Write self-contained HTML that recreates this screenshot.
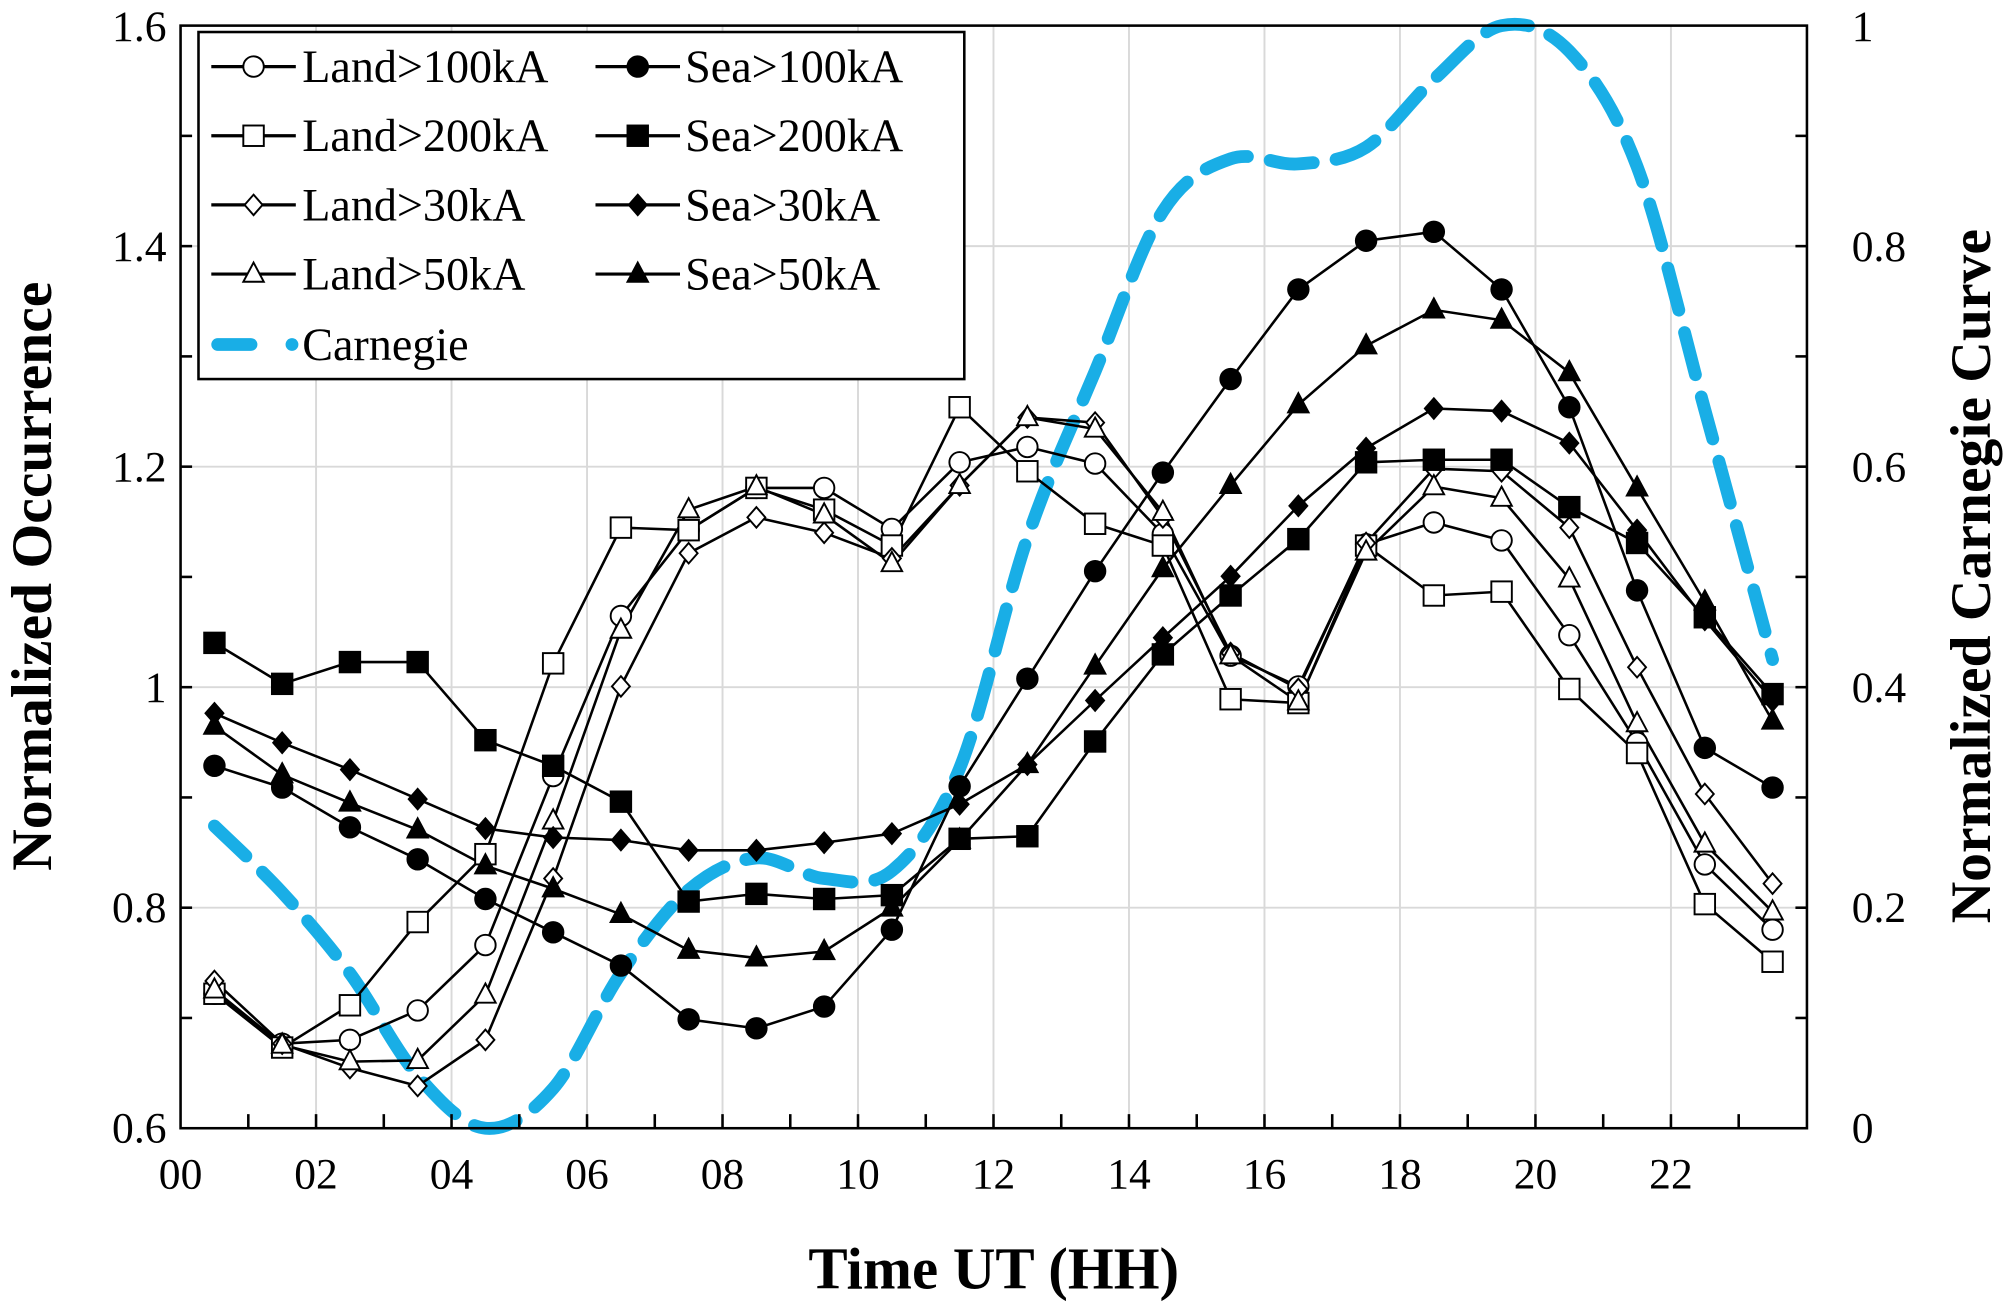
<!DOCTYPE html>
<html><head><meta charset="utf-8"><style>
html,body{margin:0;padding:0;background:#fff;}
svg{display:block;}
svg text{font-family:"Liberation Serif","Times New Roman","DejaVu Serif",serif;}
</style></head><body>
<svg id="s" width="2008" height="1307" viewBox="0 0 1568 1020.6" xmlns="http://www.w3.org/2000/svg">
<g id="grid" stroke="#d9d9d9" stroke-width="1.5"></g>
<g id="car"></g>
<g id="ser"></g>
<rect x="141" y="20" width="1270" height="861" fill="none" stroke="#000" stroke-width="2"/>
<g id="ticks" stroke="#000" stroke-width="2"></g>
<g font-size="34" text-anchor="end">
<text x="130" y="892">0.6</text><text x="130" y="720">0.8</text><text x="130" y="548">1</text>
<text x="130" y="376">1.2</text><text x="130" y="204">1.4</text><text x="130" y="32">1.6</text>
</g>
<g font-size="34" text-anchor="start">
<text x="1446" y="892">0</text><text x="1446" y="720">0.2</text><text x="1446" y="548">0.4</text>
<text x="1446" y="376">0.6</text><text x="1446" y="204">0.8</text><text x="1446" y="32">1</text>
</g>
<g font-size="34" text-anchor="middle">
<text x="141" y="928">00</text><text x="246.8" y="928">02</text><text x="352.6" y="928">04</text>
<text x="458.4" y="928">06</text><text x="564.2" y="928">08</text><text x="670" y="928">10</text>
<text x="775.8" y="928">12</text><text x="881.6" y="928">14</text><text x="987.4" y="928">16</text>
<text x="1093.2" y="928">18</text><text x="1199" y="928">20</text><text x="1304.8" y="928">22</text>
</g>
<text x="776" y="1006" font-size="46" font-weight="bold" text-anchor="middle">Time UT (HH)</text>
<text transform="translate(40,450) rotate(-90)" font-size="45" font-weight="bold" text-anchor="middle">Normalized Occurrence</text>
<text transform="translate(1554,450) rotate(-90)" font-size="45" font-weight="bold" text-anchor="middle">Normalized Carnegie Curve</text>
<rect x="155" y="25" width="598" height="271" fill="#fff" stroke="#000" stroke-width="2"/>
<g id="leg"></g>
<g font-size="36">
<text x="236" y="64">Land&gt;100kA</text><text x="535" y="64">Sea&gt;100kA</text>
<text x="236" y="118">Land&gt;200kA</text><text x="535" y="118">Sea&gt;200kA</text>
<text x="236" y="172">Land&gt;30kA</text><text x="535" y="172">Sea&gt;30kA</text>
<text x="236" y="226">Land&gt;50kA</text><text x="535" y="226">Sea&gt;50kA</text>
<text x="236" y="281">Carnegie</text>
</g>
</svg>
<script>
var NS="http://www.w3.org/2000/svg";
function el(p,t,a){var e=document.createElementNS(NS,t);for(var k in a)e.setAttribute(k,a[k]);document.getElementById(p).appendChild(e);return e;}
var X0=141,DX=52.9;
for(var h=2;h<24;h+=2)el("grid","line",{x1:X0+h*DX,x2:X0+h*DX,y1:20,y2:881});
for(var v=1;v<5;v++)el("grid","line",{x1:141,x2:1411,y1:881-v*172.2,y2:881-v*172.2});
for(var h=1;h<24;h++)el("ticks","line",{x1:X0+h*DX,x2:X0+h*DX,y1:881,y2:870});
for(var i=1;i<10;i++){var y=881-i*86.1;el("ticks","line",{x1:141,x2:150,y1:y,y2:y});el("ticks","line",{x1:1402,x2:1411,y1:y,y2:y});}
var xs=[];for(var i=0;i<24;i++)xs.push(X0+(i+0.5)*DX);
var car=[645,697,760,840,881,850,760,695,670,686,680,600,420,290,165,124,128,115,62,20,40,130,320,515];
var d="M"+xs[0]+","+car[0];
for(var i=0;i<23;i++){var p0=i>0?i-1:i,p3=i<22?i+2:i+1;
var c1x=xs[i]+(xs[i+1]-xs[p0])/6,c1y=car[i]+(car[i+1]-car[p0])/6,c2x=xs[i+1]-(xs[p3]-xs[i])/6,c2y=car[i+1]-(car[p3]-car[i])/6;
d+=" C"+c1x+","+c1y+" "+c2x+","+c2y+" "+xs[i+1]+","+car[i+1];}
el("car","path",{d:d,fill:"none",stroke:"#19aee6","stroke-width":10,"stroke-dasharray":"34 18","stroke-linecap":"round"});
var S=[
["c",0,[776,815,812,789,738,606,481,414,381,381,413,361,349,362,417,512,536,425,408,422,496,580,675,726]],
["s",0,[776,818,785,720,667,518,412,414,381,398,426,318,368,409,426,546,549,426,465,462,538,588,706,751]],
["d",0,[766,815,834,848,812,686,536,432,404,416,436,379,326,330,404,510,538,424,366,368,412,521,620,690]],
["t",0,[773,816,829,828,777,641,492,398,380,402,440,379,326,335,400,512,548,431,380,389,452,565,659,712]],
["c",1,[598,615,646,671,702,728,754,796,803,786,726,614,530,446,369,296,226,188,181,226,318,461,584,615]],
["s",1,[502,534,517,517,578,598,626,704,698,702,699,655,653,579,511,465,421,361,359,359,396,424,482,542]],
["d",1,[557,580,601,624,647,654,656,664,664,658,651,628,597,547,498,450,395,350,319,321,346,414,484,547]],
["t",1,[567,605,627,648,676,694,714,742,748,743,709,656,597,520,444,379,316,270,242,250,291,381,470,563]]];
function mk(g,t,f,x,y){var a={fill:f?"#000":"#fff",stroke:"#000","stroke-width":1.5};
if(t=="c"){a.cx=x;a.cy=y;a.r=8;el(g,"circle",a);}
else if(t=="s"){a.x=x-8;a.y=y-8;a.width=16;a.height=16;el(g,"rect",a);}
else if(t=="d"){a.points=x+","+(y-8)+" "+(x+7)+","+y+" "+x+","+(y+8)+" "+(x-7)+","+y;el(g,"polygon",a);}
else{a.points=x+","+(y-9)+" "+(x+8)+","+(y+6)+" "+(x-8)+","+(y+6);el(g,"polygon",a);}}
S.forEach(function(s){var p=xs.map(function(x,i){return x+","+s[2][i];}).join(" ");
el("ser","polyline",{points:p,fill:"none",stroke:"#000","stroke-width":2});});
S.forEach(function(s){xs.forEach(function(x,i){mk("ser",s[0],s[1],x,s[2][i]);});});
var ly=[52,106,160,214];
S.forEach(function(s,i){var r=i%4,bx=s[1]?465:165,y=ly[r];
el("leg","line",{x1:bx,x2:bx+66,y1:y,y2:y,stroke:"#000","stroke-width":2.5});mk("leg",s[0],s[1],bx+33,y);});
el("leg","line",{x1:170,x2:196,y1:269,y2:269,stroke:"#19aee6","stroke-width":10,"stroke-linecap":"round"});
el("leg","circle",{cx:228,cy:269,r:5,fill:"#19aee6"});
</script>
</body></html>
